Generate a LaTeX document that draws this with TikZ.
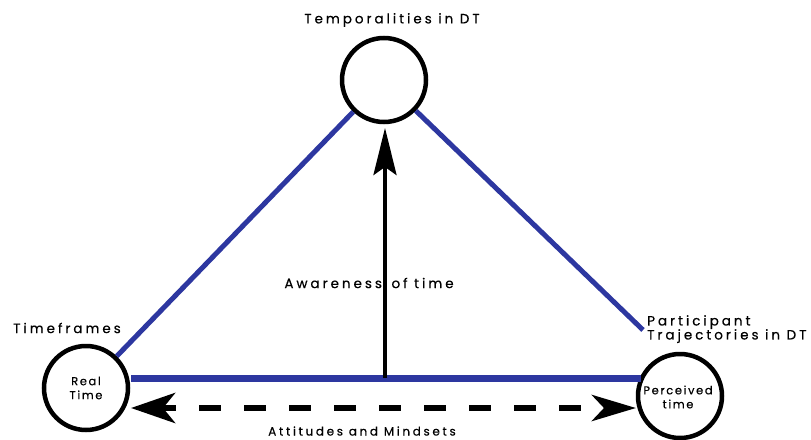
\documentclass[tikz,border=0pt]{standalone}
\usepackage{fontspec}
\setmainfont{Poppins}
\usetikzlibrary{arrows.meta}
\definecolor{lineblue}{RGB}{45,55,160}
\newfontfamily\spaced[LetterSpace=22,FakeBold=0.4]{Poppins}
\newfontfamily\spacedsmall[LetterSpace=14,FakeBold=0.2]{Poppins}
\begin{document}
\begin{tikzpicture}[x=1pt,y=-1pt,
  ring/.style={circle,draw=black,line width=4.5pt,minimum size=84pt,inner sep=0pt,fill=white},
  blueline/.style={draw=lineblue,line width=5pt},
  lab/.style={font=\spaced\fontsize{13.5}{15}\selectfont,inner sep=0pt},
  inlab/.style={font=\spacedsmall\fontsize{11.5}{14}\selectfont,inner sep=0pt,align=center}]
\useasboundingbox (0,0) rectangle (811,439);
% circles
\node[ring] (top) at (384,80) {};
\node[ring] (left) at (86,388) {};
\node[ring] (right) at (680,396) {};
% blue lines
\coordinate (rdend) at (643,330);
\coordinate (hl) at (131,378);
\coordinate (hr) at (641,378);
\coordinate (hm) at (385,378);
\draw[blueline] (top) -- (left);
\draw[blueline] (top) -- (rdend);
\draw[draw=lineblue,line width=7pt] (hl) -- (hr);
% vertical arrow
\coordinate (vtip) at (385,128);
\draw[line width=4pt,-{Stealth[length=47pt,width=23pt,inset=8pt]}] (hm) -- (vtip);
% dashed double arrow
\coordinate (dl) at (131,408);
\coordinate (dr) at (636,408);
\draw[line width=6.5pt,dash pattern=on 22pt off 23pt,dash phase=-39pt,
  {Stealth[length=44pt,width=30pt,inset=12pt]}-{Stealth[length=44pt,width=26pt,inset=12pt]}] (dl) -- (dr);
% labels
\node[lab] (tlab) at (392,20) {Temporalities in DT};
\node[lab,anchor=west] (tf) at (13,328) {Timeframes};
\node[lab,anchor=north west,align=left] (pt) at (647,315) {Participant\\[-1pt]Trajectories in DT};
\node[lab] (aw) at (369,283) {Awareness\hspace{3pt} of time};
\node[lab,font=\spaced\fontsize{12}{14}\selectfont] (am) at (362,431) {Attitudes and Mindsets};
\node[inlab] (rt) at (left) {Real\\Time};
\node[inlab] (pc) at (678,397) {Perceived\\time};
\end{tikzpicture}
\end{document}
